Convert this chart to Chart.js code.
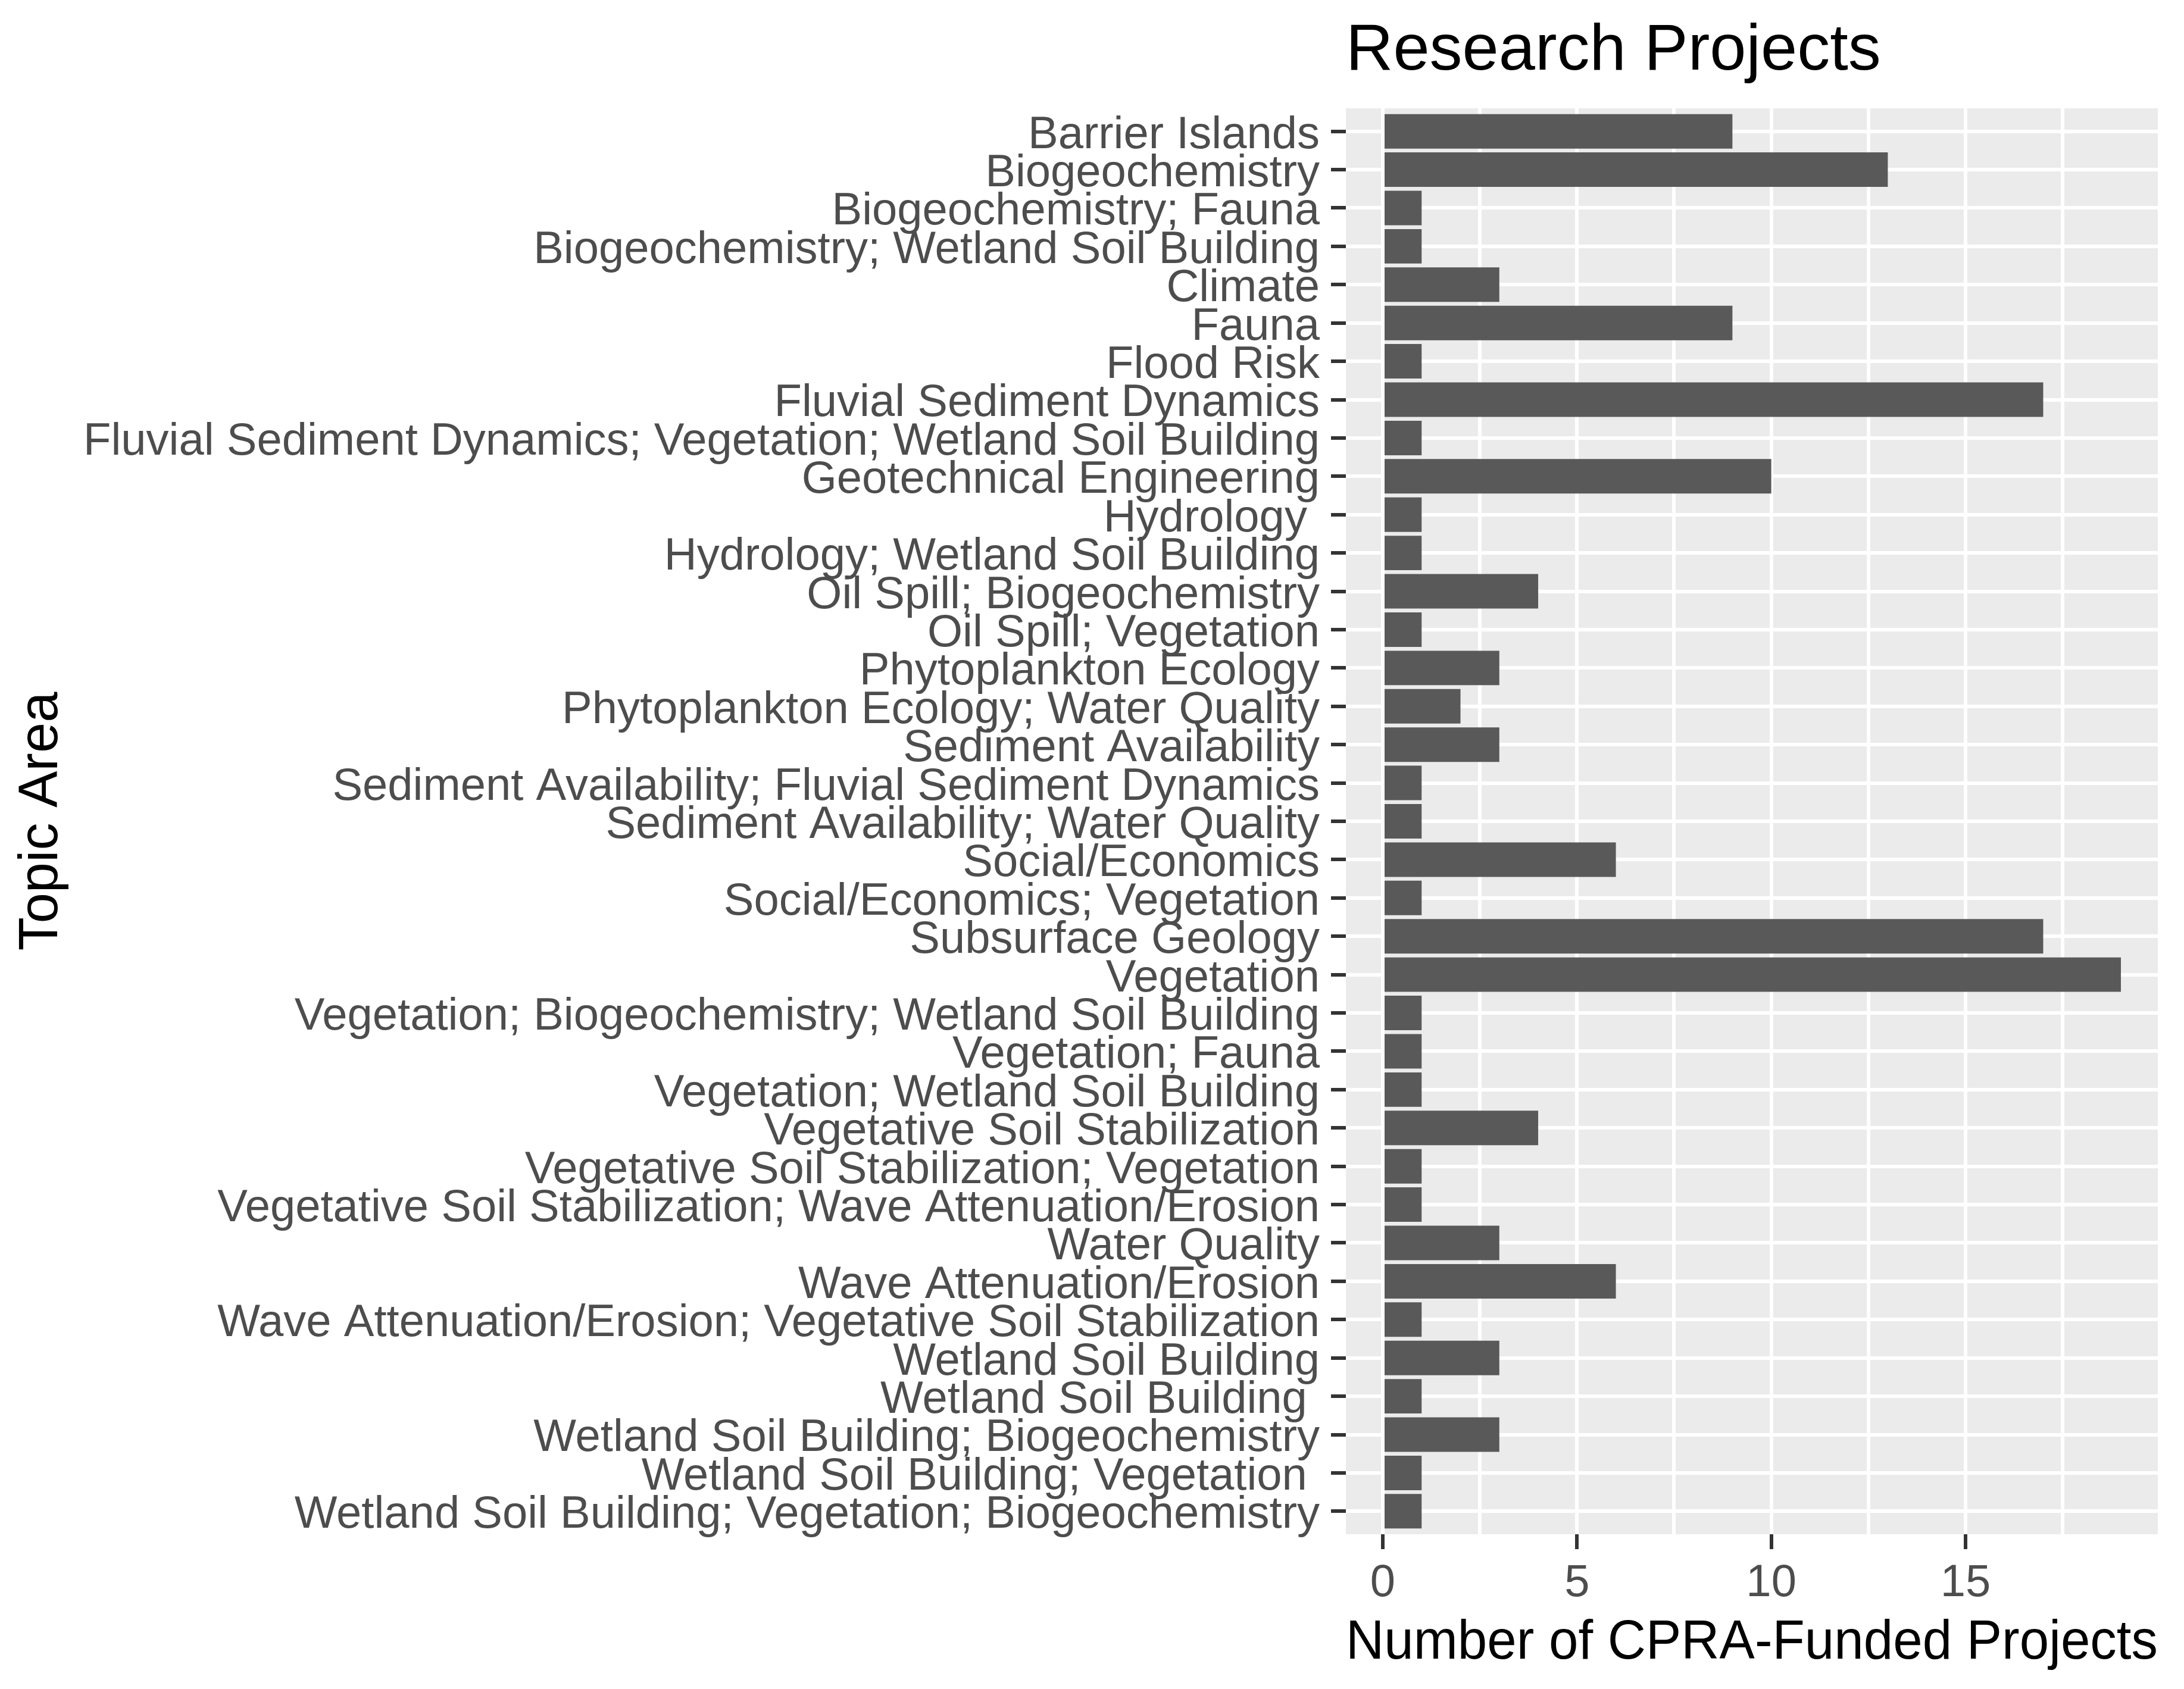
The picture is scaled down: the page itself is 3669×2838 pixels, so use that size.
<!DOCTYPE html>
<html>
<head>
<meta charset="utf-8">
<script src="https://cdn.jsdelivr.net/npm/chart.js@4.4.1/dist/chart.umd.min.js"></script>
<style>
    html, body { margin: 0; padding: 0; background: #ffffff; }
    canvas { display: block; }
</style>
</head>
<body>
<canvas id="projectsChart" width="3669" height="2838"></canvas>
<script>
/* DATA */
const topics = [
    "Barrier Islands",
    "Biogeochemistry",
    "Biogeochemistry; Fauna",
    "Biogeochemistry; Wetland Soil Building",
    "Climate",
    "Fauna",
    "Flood Risk",
    "Fluvial Sediment Dynamics",
    "Fluvial Sediment Dynamics; Vegetation; Wetland Soil Building",
    "Geotechnical Engineering",
    "Hydrology ",
    "Hydrology; Wetland Soil Building",
    "Oil Spill; Biogeochemistry",
    "Oil Spill; Vegetation",
    "Phytoplankton Ecology",
    "Phytoplankton Ecology; Water Quality",
    "Sediment Availability",
    "Sediment Availability; Fluvial Sediment Dynamics",
    "Sediment Availability; Water Quality",
    "Social/Economics",
    "Social/Economics; Vegetation",
    "Subsurface Geology",
    "Vegetation",
    "Vegetation; Biogeochemistry; Wetland Soil Building",
    "Vegetation; Fauna",
    "Vegetation; Wetland Soil Building",
    "Vegetative Soil Stabilization",
    "Vegetative Soil Stabilization; Vegetation",
    "Vegetative Soil Stabilization; Wave Attenuation/Erosion",
    "Water Quality",
    "Wave Attenuation/Erosion",
    "Wave Attenuation/Erosion; Vegetative Soil Stabilization",
    "Wetland Soil Building",
    "Wetland Soil Building ",
    "Wetland Soil Building; Biogeochemistry",
    "Wetland Soil Building; Vegetation ",
    "Wetland Soil Building; Vegetation; Biogeochemistry"
];

const projectCounts = [
    9, 13, 1, 1, 3, 9, 1, 17, 1, 10,
    1, 1, 4, 1, 3, 2, 3, 1, 1, 6,
    1, 17, 19, 1, 1, 1, 4, 1, 1, 3,
    6, 1, 3, 1, 3, 1, 1
];

const xTickLabels = [0, 5, 10, 15];

const FONT = "'Liberation Sans', Arial, sans-serif";


/* GREY PANEL BEHIND THE BARS */
const panelBackground = {
    id: "panelBackground",
    beforeDraw(chart) {
        const { ctx, chartArea } = chart;
        ctx.save();
        ctx.fillStyle = "#EBEBEB";
        ctx.fillRect(chartArea.left, chartArea.top, chartArea.width, chartArea.height);
        ctx.restore();
    }
};


/* BAR CHART */
function createProjectsChart() {

    const ctx = document.getElementById("projectsChart").getContext("2d");

    new Chart(ctx, {
        type: "bar",
        data: {
            datasets: [{
                data: projectCounts.map((v, i) => ({ x: v, y: i })),
                backgroundColor: "#595959",
                borderWidth: 0,
                barPercentage: 0.9,
                categoryPercentage: 1.0
            }]
        },
        options: {
            indexAxis: "y",
            responsive: false,
            devicePixelRatio: 1,
            animation: false,
            layout: { padding: { left: 0, right: 44, top: 0, bottom: 0 } },
            plugins: {
                legend: { display: false },
                tooltip: { enabled: false },
                title: {
                    display: true,
                    text: "Research Projects",
                    align: "start",
                    fullSize: false,
                    color: "#000000",
                    font: { family: FONT, size: 110, weight: "normal", lineHeight: 1.2 },
                    padding: { top: 21, bottom: 29 }
                }
            },
            scales: {
                x: {
                    type: "linear",
                    position: "bottom",
                    min: -0.95,
                    max: 19.95,
                    offset: false,
                    border: { display: false },
                    grid: {
                        offset: false,
                        color: "#FFFFFF",
                        lineWidth: 6,
                        drawTicks: true,
                        tickLength: 25,
                        tickWidth: 6,
                        tickColor: c => (c.tick && xTickLabels.includes(c.tick.value)) ? "#333333" : "rgba(0,0,0,0)"
                    },
                    ticks: {
                        stepSize: 2.5,
                        includeBounds: false,
                        autoSkip: false,
                        maxRotation: 0,
                        padding: 12,
                        color: "#4D4D4D",
                        font: { family: FONT, size: 76 },
                        callback: v => xTickLabels.includes(v) ? String(v) : ""
                    },
                    title: {
                        display: true,
                        text: "Number of CPRA-Funded Projects",
                        color: "#000000",
                        font: { family: FONT, size: 93, lineHeight: 1.2 },
                        padding: { top: 0, bottom: 21 }
                    },
                    afterFit: scale => { scale.height = 260; }
                },
                y: {
                    type: "linear",
                    position: "left",
                    reverse: true,
                    min: -0.6,
                    max: topics.length - 1 + 0.6,
                    offset: false,
                    border: { display: false },
                    grid: {
                        offset: false,
                        color: "#FFFFFF",
                        lineWidth: 6,
                        drawTicks: true,
                        tickLength: 25,
                        tickWidth: 6,
                        tickColor: "#333333"
                    },
                    ticks: {
                        stepSize: 1,
                        includeBounds: false,
                        autoSkip: false,
                        padding: 19,
                        labelOffset: 7,
                        color: "#4D4D4D",
                        font: { family: FONT, size: 76 },
                        callback: v => topics[v]
                    },
                    title: {
                        display: true,
                        text: "Topic Area",
                        color: "#000000",
                        font: { family: FONT, size: 92, lineHeight: 1.2 },
                        padding: { top: 15, bottom: 0 }
                    },
                    afterFit: scale => { scale.width = 2261; }
                }
            }
        },
        plugins: [panelBackground]
    });
}


document.addEventListener("DOMContentLoaded", () => {
    createProjectsChart();
});
</script>
</body>
</html>
